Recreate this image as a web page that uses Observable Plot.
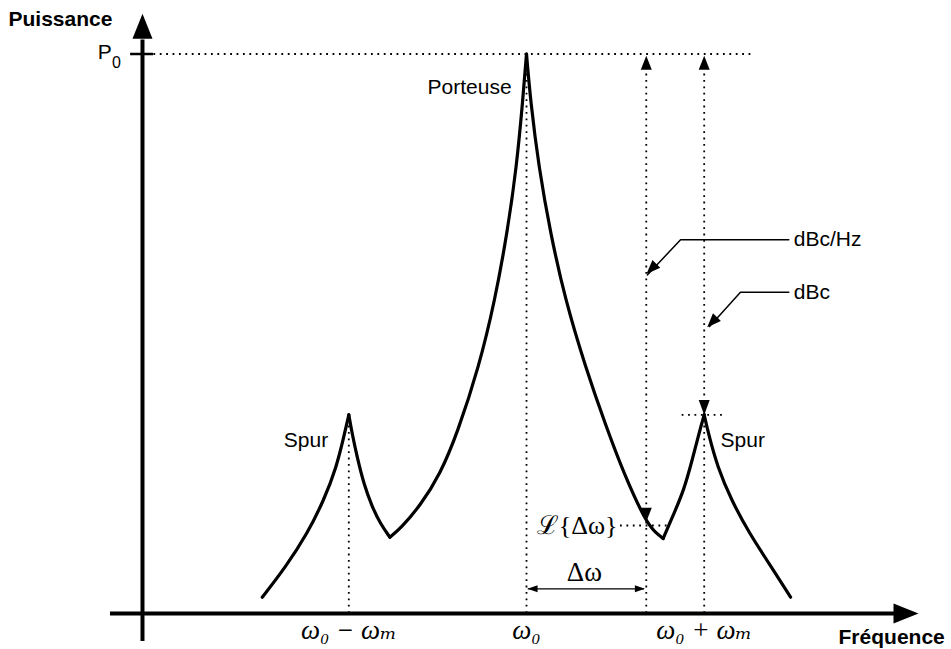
<!DOCTYPE html>
<html>
<head>
<meta charset="utf-8">
<script src="https://cdn.jsdelivr.net/npm/d3@7"></script>
<script src="https://cdn.jsdelivr.net/npm/@observablehq/plot@0.6"></script>
<style>
  html, body { margin: 0; padding: 0; background: #fff; }
  #chart svg { display: block; }
</style>
</head>
<body>
<div id="chart"></div>
<script>
// ---- Data (frequency in units of ωm relative to ω0, power in % of P0) ----
const spurLeftRise  = [[-1.487,2.91],[-1.356,8.28],[-1.234,14.25],[-1.141,20.2],[-1.069,26.15],[-1.024,32.12],[-1.0,35.5]];
const spurLeftFall  = [[-1.0,35.5],[-0.981,32.12],[-0.953,27.94],[-0.916,23.18],[-0.868,19.0],[-0.822,16.03],[-0.769,13.64]];
const carrierRise   = [[-0.769,13.64],[-0.709,15.19],[-0.597,19.3],[-0.484,25.02],[-0.39,32.17],[-0.268,44.02],[-0.178,55.94],[-0.109,67.92],[-0.056,79.77],[-0.021,91.69],[0,100]];
const carrierFall   = [[0,100],[0.0225,91.69],[0.069,79.77],[0.135,67.92],[0.219,55.94],[0.332,44.02],[0.445,33.67],[0.551,24.73],[0.674,16.26],[0.726,14.48],[0.769,13.4]];
const spurRightRise = [[0.769,13.4],[0.829,17.82],[0.885,21.98],[0.932,27.35],[0.97,32.12],[1.0,35.5]];
const spurRightFall = [[1.0,35.5],[1.024,32.12],[1.075,26.15],[1.154,20.2],[1.255,14.25],[1.379,8.28],[1.486,2.91]];

const segments = {spurLeftRise, spurLeftFall, carrierRise, carrierFall, spurRightRise, spurRightFall};

const xTickValues = [-1, 0, 1];
const xTickLabels = ["ω₀ − ωₘ", "ω₀", "ω₀ + ωₘ"];

const P0 = 100;
const spurLevel = 35.5;
const deltaW = 0.674;
const noiseAtDelta = 15.73;

// axis extents (same units)
const yAxisX = -2.161, yAxisBottom = -5.0, yAxisTop = 102.5, yAxisTip = 107.2;
const xAxisLeft = -2.341, xAxisRight = 2.08, xAxisTip = 2.206;

// ---- Build tables ----
const curve = [];
for (const [name, pts] of Object.entries(segments)) for (const [u, v] of pts) curve.push({seg: name, u, v});

function head(angleDeg, L, W) {
  const a = angleDeg * Math.PI / 180, c = Math.cos(a), s = Math.sin(a);
  return {
    draw(ctx) {
      ctx.moveTo(0, 0);
      ctx.lineTo(-L * c - W * s, -L * s + W * c);
      ctx.lineTo(-L * c + W * s, -L * s - W * c);
      ctx.closePath();
    }
  };
}

const sans = "'Liberation Sans', Arial, Helvetica, sans-serif";
const serif = "'Liberation Serif', 'DejaVu Serif', serif";
const dots = "1.8,4.6";

const vDotted = [
  {u: -1, v1: 0, v2: spurLevel},
  {u: 0, v1: 0, v2: P0},
  {u: deltaW, v1: 0, v2: P0 - 1},
  {u: 1, v1: 0, v2: P0 - 1}
];
const hDotted = [
  {v: P0, u1: -2.133, u2: 1.272},
  {v: spurLevel, u1: 0.876, u2: 1.12},
  {v: noiseAtDelta, u1: 0.529, u2: 0.793}
];

const leaders = [
  {id: "a", u: 0.680, v: 60.5}, {id: "a", u: 0.867, v: 66.8}, {id: "a", u: 1.476, v: 66.8},
  {id: "b", u: 1.03, v: 51.3}, {id: "b", u: 1.204, v: 57.43}, {id: "b", u: 1.476, v: 57.43}
];

const dot1 = (u, v, sym) => Plot.dot([{u, v}], {x: "u", y: "v", r: 5, symbol: sym, fill: "black", stroke: "none"});

const chart = Plot.plot({
  width: 951,
  height: 649,
  margin: 0,
  x: {domain: [-1, 1], range: [348.3, 703.7], axis: null},
  y: {domain: [0, 100], range: [613, 53.5], axis: null},
  style: {background: "white", overflow: "visible"},
  marks: [
    // dotted guides
    Plot.ruleX(vDotted, {x: "u", y1: "v1", y2: "v2", stroke: "black", strokeWidth: 1.8, strokeDasharray: dots}),
    Plot.ruleY(hDotted, {y: "v", x1: "u1", x2: "u2", stroke: "black", strokeWidth: 1.8, strokeDasharray: dots}),
    // axes
    Plot.ruleX([yAxisX], {y1: yAxisBottom, y2: yAxisTop, stroke: "black", strokeWidth: 4}),
    Plot.ruleY([0], {x1: xAxisLeft, x2: xAxisRight, stroke: "black", strokeWidth: 4}),
    Plot.ruleY([P0], {x1: -2.228, x2: -2.099, stroke: "black", strokeWidth: 2.5}),
    dot1(yAxisX, yAxisTip, head(-90, 25, 10)),
    dot1(xAxisTip, 0, head(0, 25, 10)),
    // spectrum
    Plot.line(curve, {x: "u", y: "v", z: "seg", curve: "basis", stroke: "black", strokeWidth: 3.2, strokeLinejoin: "round", strokeLinecap: "round"}),
    // measurement arrows
    dot1(deltaW, 99.7, head(-90, 14, 5.5)),
    dot1(1, 99.7, head(-90, 14, 5.5)),
    dot1(deltaW, 16.4, head(90, 14, 5.5)),
    dot1(1, spurLevel, head(90, 15, 5.5)),
    // Δω double arrow
    Plot.ruleY([4.41], {x1: 0.01, x2: deltaW - 0.01, stroke: "black", strokeWidth: 1.1}),
    dot1(0.006, 4.41, head(180, 10, 3.5)),
    dot1(deltaW - 0.008, 4.41, head(0, 10, 3.5)),
    // leaders
    Plot.line(leaders, {x: "u", y: "v", z: "id", stroke: "black", strokeWidth: 1.5}),
    dot1(0.675, 60.7, head(135, 14, 5.5)),
    dot1(1.017, 51.17, head(134, 14, 5.5)),
    // text labels
    Plot.text(["Puissance"], {x: -2.915, y: 106.2, text: d => d, textAnchor: "start", fontSize: 21, fontWeight: "bold", fontFamily: sans, fill: "black"}),
    Plot.text(["Fréquence"], {x: 1.756, y: -4.2, text: d => d, textAnchor: "start", fontSize: 21, fontWeight: "bold", fontFamily: sans, fill: "black"}),
    Plot.text(["P"], {x: -2.413, y: 100.3, text: d => d, textAnchor: "start", fontSize: 21, fontFamily: sans, fill: "black"}),
    Plot.text(["0"], {x: -2.333, y: 98.4, text: d => d, textAnchor: "start", fontSize: 16, fontFamily: sans, fill: "black"}),
    Plot.text(["Porteuse"], {x: -0.084, y: 94.0, text: d => d, textAnchor: "end", fontSize: 21, fontFamily: sans, fill: "black"}),
    Plot.text(["Spur"], {x: -1.366, y: 30.9, text: d => d, textAnchor: "start", fontSize: 21, fontFamily: sans, fill: "black"}),
    Plot.text(["Spur"], {x: 1.092, y: 30.9, text: d => d, textAnchor: "start", fontSize: 21, fontFamily: sans, fill: "black"}),
    Plot.text(["dBc/Hz"], {x: 1.504, y: 66.8, text: d => d, textAnchor: "start", fontSize: 21, fontFamily: sans, fill: "black"}),
    Plot.text(["dBc"], {x: 1.504, y: 57.43, text: d => d, textAnchor: "start", fontSize: 21, fontFamily: sans, fill: "black"}),
    // math labels
    Plot.text(xTickValues, {x: d => d, y: -2.98, text: (d, i) => xTickLabels[i], textAnchor: "middle", fontSize: 27, fontStyle: "italic", fontFamily: serif, fill: "black"}),
    Plot.text(["Δω"], {x: 0.326, y: 7.43, text: d => d, textAnchor: "middle", fontSize: 27, fontFamily: serif, fill: "black"}),
    Plot.text(["ℒ{Δω}"], {x: 0.512, y: noiseAtDelta, text: d => d, textAnchor: "end", fontSize: 26, fontFamily: serif, fill: "black"})
  ]
});

document.getElementById("chart").append(chart);
</script>
</body>
</html>
